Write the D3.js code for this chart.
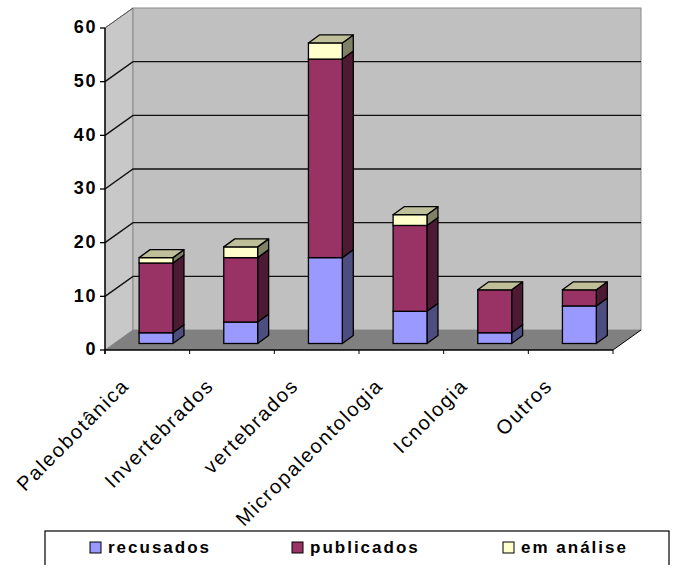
<!DOCTYPE html>
<html>
<head>
<meta charset="utf-8">
<script src="https://cdn.jsdelivr.net/npm/d3@7/dist/d3.min.js"></script>
<style>
html,body{margin:0;padding:0;background:#fff;overflow:hidden}
svg{display:block}
text{font-family:"Liberation Sans",Arial,sans-serif;fill:#000}
</style>
</head>
<body>
<svg id="chart" width="677" height="565"></svg>
<script>
const categories = ["Paleobotânica","Invertebrados","vertebrados","Micropaleontologia","Icnologia","Outros"];
const recusados = [2,4,16,6,2,7];
const publicados = [13,12,37,16,8,3];
const emAnalise = [1,2,3,2,0,0];
const seriesNames = ["recusados","publicados","em análise"];
const yTicks = [0,10,20,30,40,50,60];

const faces = [
  {front:"#9999ff", side:"#4d4d80"},
  {front:"#993366", side:"#4d1a33"},
  {front:"#ffffcc", side:"#808066", top:"#bfbf99"}
];

const svg = d3.select("#chart");
const x = d3.scaleBand().domain(categories).range([105,613]).paddingInner(0.6).paddingOuter(0.3);
const y = d3.scaleLinear().domain([0,60]).range([350,28]);
const tickX = d3.scalePoint().domain(d3.range(categories.length+1)).range([105,613]);

// oblique projection: depth of the chart box and of each bar
const box = {dx:28, dy:-20};
const bar = {dx:11, dy:-8, offX:8.7, offY:-6.5};
const poly = pts => pts.map(p=>p.join(",")).join(" ");

// side wall, back wall, floor
const [x0,x1] = x.range();
svg.append("polygon").attr("points",poly([[x0,y(0)],[x0+box.dx,y(0)+box.dy],[x0+box.dx,y(60)+box.dy],[x0,y(60)]]))
  .attr("fill","#c8c8c8").attr("stroke","#8a8a8a").attr("stroke-width",1);
svg.append("rect").attr("x",x0+box.dx).attr("y",y(60)+box.dy).attr("width",x1-x0).attr("height",y(0)-y(60))
  .attr("fill","#c0c0c0").attr("stroke","#8a8a8a").attr("stroke-width",1);
svg.append("polygon").attr("points",poly([[x0,y(0)],[x0+box.dx,y(0)+box.dy],[x1+box.dx,y(0)+box.dy],[x1,y(0)]]))
  .attr("fill","#808080");

// gridlines run along the side wall, then across the back wall
svg.append("g").selectAll("polyline").data(yTicks.filter(t=>t>0&&t<60)).join("polyline")
  .attr("points",t=>poly([[x0,y(t)],[x0+box.dx,y(t)+box.dy],[x1+box.dx,y(t)+box.dy]]))
  .attr("fill","none").attr("stroke","#111").attr("stroke-width",1.4);
svg.append("line").attr("x1",x0).attr("y1",y(60)).attr("x2",x0+box.dx).attr("y2",y(60)+box.dy).attr("stroke","#555");

// stacked bars
const stack = d3.stack().keys([0,1,2]).value((d,k)=>d[k])(categories.map((c,i)=>[recusados[i],publicados[i],emAnalise[i]]));
const barWidth = x.bandwidth();
categories.forEach((c,i)=>{
  const g = svg.append("g");
  const L = x(c)+bar.offX, R = L+barWidth;
  stack.forEach((s,k)=>{
    const [v0,v1] = s[i];
    if(v1<=v0) return;
    const yb = y(v0)+bar.offY, yt = y(v1)+bar.offY;
    g.append("polygon").attr("points",poly([[R,yb],[R+bar.dx,yb+bar.dy],[R+bar.dx,yt+bar.dy],[R,yt]]))
      .attr("fill",faces[k].side).attr("stroke","#000").attr("stroke-width",1.3).attr("stroke-linejoin","round");
    g.append("rect").attr("x",L).attr("y",yt).attr("width",barWidth).attr("height",yb-yt)
      .attr("fill",faces[k].front).attr("stroke","#000").attr("stroke-width",1.3);
  });
  const total = stack[2][i][1];
  const yt = y(total)+bar.offY;
  g.append("polygon").attr("points",poly([[L,yt],[L+bar.dx,yt+bar.dy],[R+bar.dx,yt+bar.dy],[R,yt]]))
    .attr("fill",faces[2].top).attr("stroke","#000").attr("stroke-width",1.3).attr("stroke-linejoin","round");
});

// value axis
const yAxis = svg.append("g");
yAxis.append("line").attr("x1",x0).attr("x2",x0).attr("y1",y(0)+4).attr("y2",y(60)).attr("stroke","#000").attr("stroke-width",1.4);
yAxis.selectAll("line.tick").data(yTicks).join("line").attr("class","tick")
  .attr("x1",x0-5).attr("x2",x0).attr("y1",t=>y(t)).attr("y2",t=>y(t)).attr("stroke","#000").attr("stroke-width",1.3);
yAxis.selectAll("text").data(yTicks).join("text")
  .attr("x",x0-8).attr("y",t=>y(t)-1).attr("dy","0.35em").attr("text-anchor","end")
  .attr("font-size",18).attr("font-weight","bold").attr("letter-spacing","1.6px").text(t=>t);

// category axis
const xAxis = svg.append("g");
xAxis.append("line").attr("x1",x0).attr("x2",x1).attr("y1",y(0)).attr("y2",y(0)).attr("stroke","#000").attr("stroke-width",1.4);
xAxis.selectAll("line.tick").data(tickX.domain()).join("line").attr("class","tick")
  .attr("x1",i=>tickX(i)).attr("x2",i=>tickX(i)).attr("y1",y(0)).attr("y2",y(0)+4).attr("stroke","#000");
svg.append("line").attr("x1",x1).attr("y1",y(0)).attr("x2",x1+box.dx).attr("y2",y(0)+box.dy).attr("stroke","#000").attr("stroke-width",1);
xAxis.selectAll("text").data(categories).join("text")
  .attr("text-anchor","end").attr("font-size",20).attr("letter-spacing","1.7px")
  .attr("transform",(c,i)=>`translate(${x(c)+barWidth/2-17},${y(0)+37}) rotate(-45)`)
  .text(c=>c);

// legend
const legend = svg.append("g");
legend.append("rect").attr("x",45).attr("y",531).attr("width",624).attr("height",40).attr("fill","#fff").attr("stroke","#000").attr("stroke-width",1.2);
const legendX = d3.scaleOrdinal().domain(seriesNames).range([90,292,503]);
const item = legend.selectAll("g").data(seriesNames).join("g").attr("transform",n=>`translate(${legendX(n)},0)`);
item.append("rect").attr("x",0).attr("y",542).attr("width",11).attr("height",11)
  .attr("fill",(n,i)=>faces[i].front).attr("stroke","#000").attr("stroke-width",1);
item.append("text").attr("x",18).attr("y",553).attr("font-size",17).attr("font-weight","bold")
  .attr("letter-spacing","2px").text(n=>n);
</script>
</body>
</html>
